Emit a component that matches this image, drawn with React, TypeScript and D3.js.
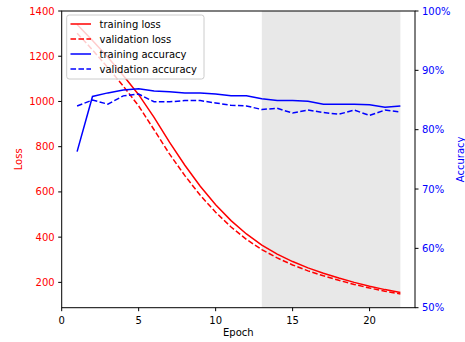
import React from "react";
import * as d3 from "d3";

const epochs = [1, 2, 3, 4, 5, 6, 7, 8, 9, 10, 11, 12, 13, 14, 15, 16, 17, 18, 19, 20, 21, 22];
const trainLoss = [1340, 1270, 1195, 1115, 1030, 930, 820, 718, 625, 543, 473, 414, 365, 325, 292, 264, 240, 219, 200, 183, 168, 155];
const valLoss = [1302, 1228, 1150, 1068, 980, 875, 768, 672, 585, 510, 445, 390, 345, 308, 277, 251, 229, 209, 191, 175, 161, 149];
const trainAcc = [0.763, 0.856, 0.862, 0.867, 0.869, 0.865, 0.864, 0.862, 0.862, 0.86, 0.857, 0.857, 0.852, 0.849, 0.849, 0.848, 0.843, 0.843, 0.843, 0.842, 0.838, 0.84];
const valAcc = [0.84, 0.85, 0.843, 0.857, 0.86, 0.847, 0.847, 0.849, 0.849, 0.845, 0.841, 0.84, 0.834, 0.836, 0.828, 0.833, 0.829, 0.826, 0.833, 0.824, 0.833, 0.83];
const xTicks = [0, 5, 10, 15, 20];
const lossTicks = [200, 400, 600, 800, 1000, 1200, 1400];
const accTicks = [0.5, 0.6, 0.7, 0.8, 0.9, 1.0];
const shadeRange = [13, 22];
const legendItems = [
  { label: "training loss", color: "#ff0000", dashed: false },
  { label: "validation loss", color: "#ff0000", dashed: true },
  { label: "training accuracy", color: "#0000ff", dashed: false },
  { label: "validation accuracy", color: "#0000ff", dashed: true },
];

const W = 465;
const H = 342;
const L = 61.7;
const R = 415;
const T = 11;
const B = 307.7;
const FONT = "DejaVu Sans, sans-serif";

export default function App() {
  const x = d3.scaleLinear().domain([0, 22.95]).range([L, R]);
  const yL = d3.scaleLinear().domain([88, 1400]).range([B, T]);
  const yA = d3.scaleLinear().domain([0.5, 1.0]).range([B, T]);

  const lineL = d3.line<number>().x((_, i) => x(epochs[i])).y((d) => yL(d));
  const lineA = d3.line<number>().x((_, i) => x(epochs[i])).y((d) => yA(d));
  const dash = "5.55,2.4";

  return (
    <svg width={W} height={H} style={{ position: "absolute", left: 0, top: 0, background: "#fff" }} fontFamily={FONT}>
      <rect x={0} y={0} width={W} height={H} fill="#fff" />
      <rect x={x(shadeRange[0])} y={T} width={x(shadeRange[1]) - x(shadeRange[0])} height={B - T} fill="#e8e8e8" />
      <path d={lineL(trainLoss) || ""} fill="none" stroke="#ff0000" strokeWidth={1.5} />
      <path d={lineL(valLoss) || ""} fill="none" stroke="#ff0000" strokeWidth={1.5} strokeDasharray={dash} />
      <path d={lineA(trainAcc) || ""} fill="none" stroke="#0000ff" strokeWidth={1.5} />
      <path d={lineA(valAcc) || ""} fill="none" stroke="#0000ff" strokeWidth={1.5} strokeDasharray={dash} />

      {/* spines */}
      <rect x={L} y={T} width={R - L} height={B - T} fill="none" stroke="#000" strokeWidth={1} />

      {/* x ticks */}
      {xTicks.map((t) => (
        <g key={"x" + t}>
          <line x1={x(t)} x2={x(t)} y1={B} y2={B + 3.5} stroke="#000" strokeWidth={1} />
          <text x={x(t)} y={B + 16} fontSize={10} textAnchor="middle" fill="#000">{t}</text>
        </g>
      ))}
      <text x={(L + R) / 2} y={336} fontSize={10} textAnchor="middle" fill="#000">Epoch</text>

      {/* left ticks */}
      {lossTicks.map((t) => (
        <g key={"l" + t}>
          <line x1={L - 3.5} x2={L} y1={yL(t)} y2={yL(t)} stroke="#000" strokeWidth={1} />
          <text x={L - 7} y={yL(t)} dy="0.35em" fontSize={10} textAnchor="end" fill="#ff0000">{t}</text>
        </g>
      ))}
      <text transform={`translate(22,${(T + B) / 2}) rotate(-90)`} fontSize={10} textAnchor="middle" fill="#ff0000">Loss</text>

      {/* right ticks */}
      {accTicks.map((t) => (
        <g key={"a" + t}>
          <line x1={R} x2={R + 3.5} y1={yA(t)} y2={yA(t)} stroke="#000" strokeWidth={1} />
          <text x={R + 7} y={yA(t)} dy="0.35em" fontSize={10} textAnchor="start" fill="#0000ff">{Math.round(t * 100) + "%"}</text>
        </g>
      ))}
      <text transform={`translate(464,${(T + B) / 2}) rotate(-90)`} fontSize={10} textAnchor="middle" fill="#0000ff">Accuracy</text>

      {/* legend */}
      <rect x={66.7} y={15} width={137.3} height={64} rx={2.5} fill="#fff" fillOpacity={0.8} stroke="#cccccc" strokeWidth={1} />
      {legendItems.map((it, i) => {
        const yy = 24 + i * 15;
        return (
          <g key={it.label}>
            <line x1={70.5} x2={91} y1={yy} y2={yy} stroke={it.color} strokeWidth={1.5} strokeDasharray={it.dashed ? dash : undefined} />
            <text x={99.5} y={yy} dy="0.35em" fontSize={10} fill="#000">{it.label}</text>
          </g>
        );
      })}
    </svg>
  );
}
